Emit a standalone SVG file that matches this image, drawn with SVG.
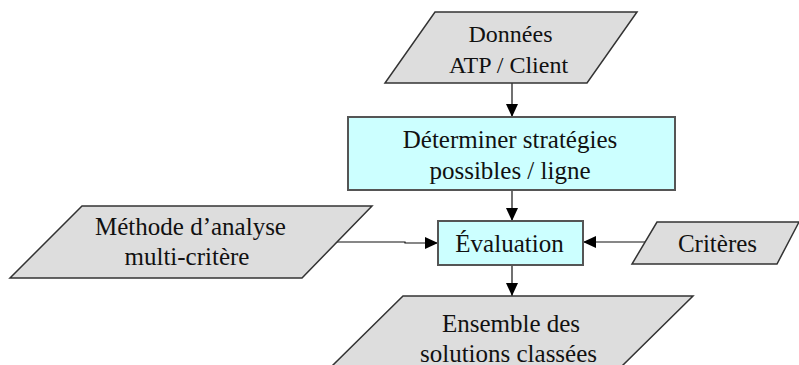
<svg xmlns="http://www.w3.org/2000/svg" width="799" height="365" viewBox="0 0 799 365">
<defs>
<style>
.para{fill:#dddddd;stroke:#333333;stroke-width:1.5}
.box{fill:#ccffff;stroke:#555555;stroke-width:2}
.lbl{font-size:25px;fill:#111111;text-anchor:middle}
.conn{fill:none;stroke:#111111;stroke-width:1.2}
</style>
<marker id="arr" markerWidth="13" markerHeight="12" refX="13" refY="6" orient="auto" markerUnits="userSpaceOnUse">
<path d="M0,0 L13,6 L0,12 Z" fill="#000000"/>
</marker>
</defs>
<rect width="799" height="365" fill="#ffffff"/>
<g id="connectors">
<path class="conn" d="M512,83 L512,117" marker-end="url(#arr)"/>
<path class="conn" d="M512,190 L512,221" marker-end="url(#arr)"/>
<path class="conn" d="M336,242 L405,242 L405,243 L438,243" marker-end="url(#arr)"/>
<path class="conn" d="M647,242 L583,242" marker-end="url(#arr)"/>
<path class="conn" d="M512,265 L512,296" marker-end="url(#arr)"/>
</g>
<g font-family="'Liberation Serif', 'DejaVu Serif', serif">
<g id="donnees">
<polygon class="para" points="435,12 637,12 587,83 385,83"/>
<text class="lbl" x="510.5" y="42" style="font-size:24px">Données</text>
<text class="lbl" x="508.5" y="73" style="font-size:24px">ATP / Client</text>
</g>
<g id="determiner">
<rect class="box" x="348" y="117" width="327" height="73"/>
<text class="lbl" x="510" y="148">Déterminer stratégies</text>
<text class="lbl" x="510" y="179">possibles / ligne</text>
</g>
<g id="methode">
<polygon class="para" points="82,206 372,206 302,278 10,278"/>
<text class="lbl" x="190.5" y="235">Méthode d’analyse</text>
<text class="lbl" x="187" y="265">multi-critère</text>
</g>
<g id="evaluation">
<rect class="box" x="438" y="221" width="145" height="44"/>
<text class="lbl" x="509.5" y="252">Évaluation</text>
</g>
<g id="criteres">
<polygon class="para" points="657,222 799,222 777,264 632,264"/>
<text class="lbl" x="717.5" y="252">Critères</text>
</g>
<g id="ensemble">
<polygon class="para" points="403,296 693,296 622,366 332,366"/>
<text class="lbl" x="511" y="332">Ensemble des</text>
<text class="lbl" x="508.5" y="362">solutions classées</text>
</g>
</g>
</svg>
